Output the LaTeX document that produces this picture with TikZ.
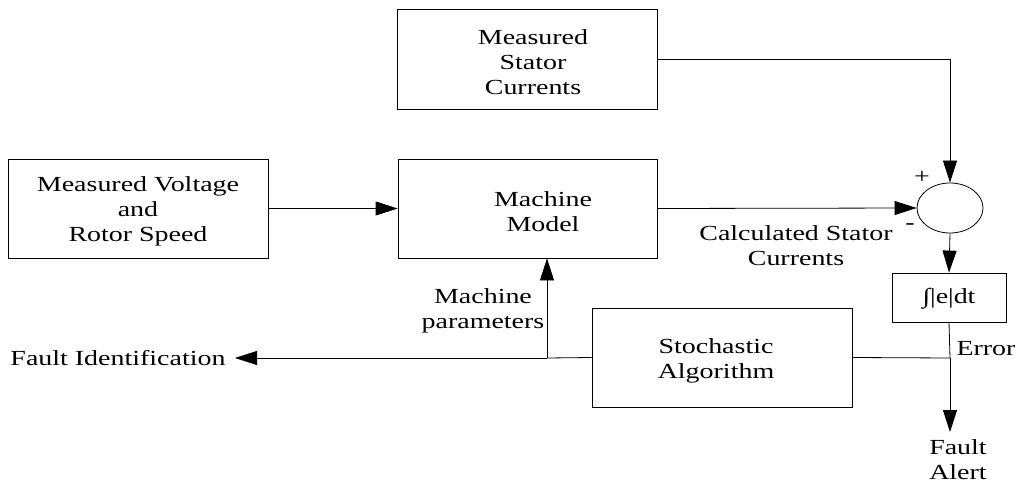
\documentclass[tikz,border=0pt]{standalone}
\usepackage{fontspec}
\setmainfont{Liberation Serif}[FakeStretch=1.3]
\usetikzlibrary{arrows.meta,shapes.geometric}
\begin{document}
\begin{tikzpicture}[x=1pt,y=-1pt,
  blk/.style={draw,line width=0.8pt,inner sep=0pt},
  txt/.style={align=center,font=\fontsize{21.5}{25}\selectfont,inner sep=0pt},
  wire/.style={line width=0.8pt},
  arr/.style={wire,-{Triangle[length=22pt,width=14pt]}}]
\useasboundingbox (0,0) rectangle (1023,484);

% blocks
\node[blk,minimum width=260pt,minimum height=100pt] (msc) at (527.5,59) {};
\node[txt] (msct) at (533,62) {Measured\\Stator\\Currents};
\node[blk,minimum width=260pt,minimum height=99pt] (mvr) at (138,208.5) {};
\node[txt] (mvrt) at (138,211) {Measured Voltage\\and\\Rotor Speed};
\node[blk,minimum width=259pt,minimum height=99pt] (mm) at (527.5,208.5) {};
\node[txt] (mmt) at (543,212) {Machine\\Model};
\node[blk,minimum width=260pt,minimum height=99pt] (sa) at (722,357.5) {};
\node[txt] (sat) at (716,361) {Stochastic\\Algorithm};
\node[draw,ellipse,line width=0.8pt,minimum width=66pt,minimum height=50pt,inner sep=0pt] (sum) at (950,208) {};
\node[blk,minimum width=114pt,minimum height=49pt] (int) at (949,297.5) {};
\node[txt] (intt) at (949,299) {∫|e|dt};

% junction points
\coordinate (corner) at (sum.north |- msc.east);
\coordinate (jp) at (547,358);
\coordinate (je) at (950,358);
\coordinate (fi) at (235,358);
\coordinate (fa) at (950,432);

% connectors
\draw[arr] (msc.east) -- (corner) -- (sum.north);
\draw[arr] (mvr.east) -- (mm.west);
\draw[arr] (mm.east) -- (sum.west);
\draw[arr] (sum.south) -- (int.north);
\draw[wire] (int.south) -- (je);
\draw[arr] (je) -- (fa);
\draw[wire] (sa.east) -- (je);
\draw[wire] (sa.west) -- (jp);
\draw[arr] (jp) -- (mm.south -| jp);
\draw[arr] (jp) -- (fi);

% labels
\node[txt] (plus) at (922,177) {+};
\node[txt] (minus) at (910,227) {-};
\node[txt] (calc) at (796,246) {Calculated Stator\\Currents};
\node[txt] (mpar) at (483,311) {Machine\\parameters};
\node[txt] (fid) at (118,358) {Fault Identification};
\node[txt] (err) at (986,349) {Error};
\node[txt] (falt) at (958,460) {Fault\\Alert};
\end{tikzpicture}
\end{document}
